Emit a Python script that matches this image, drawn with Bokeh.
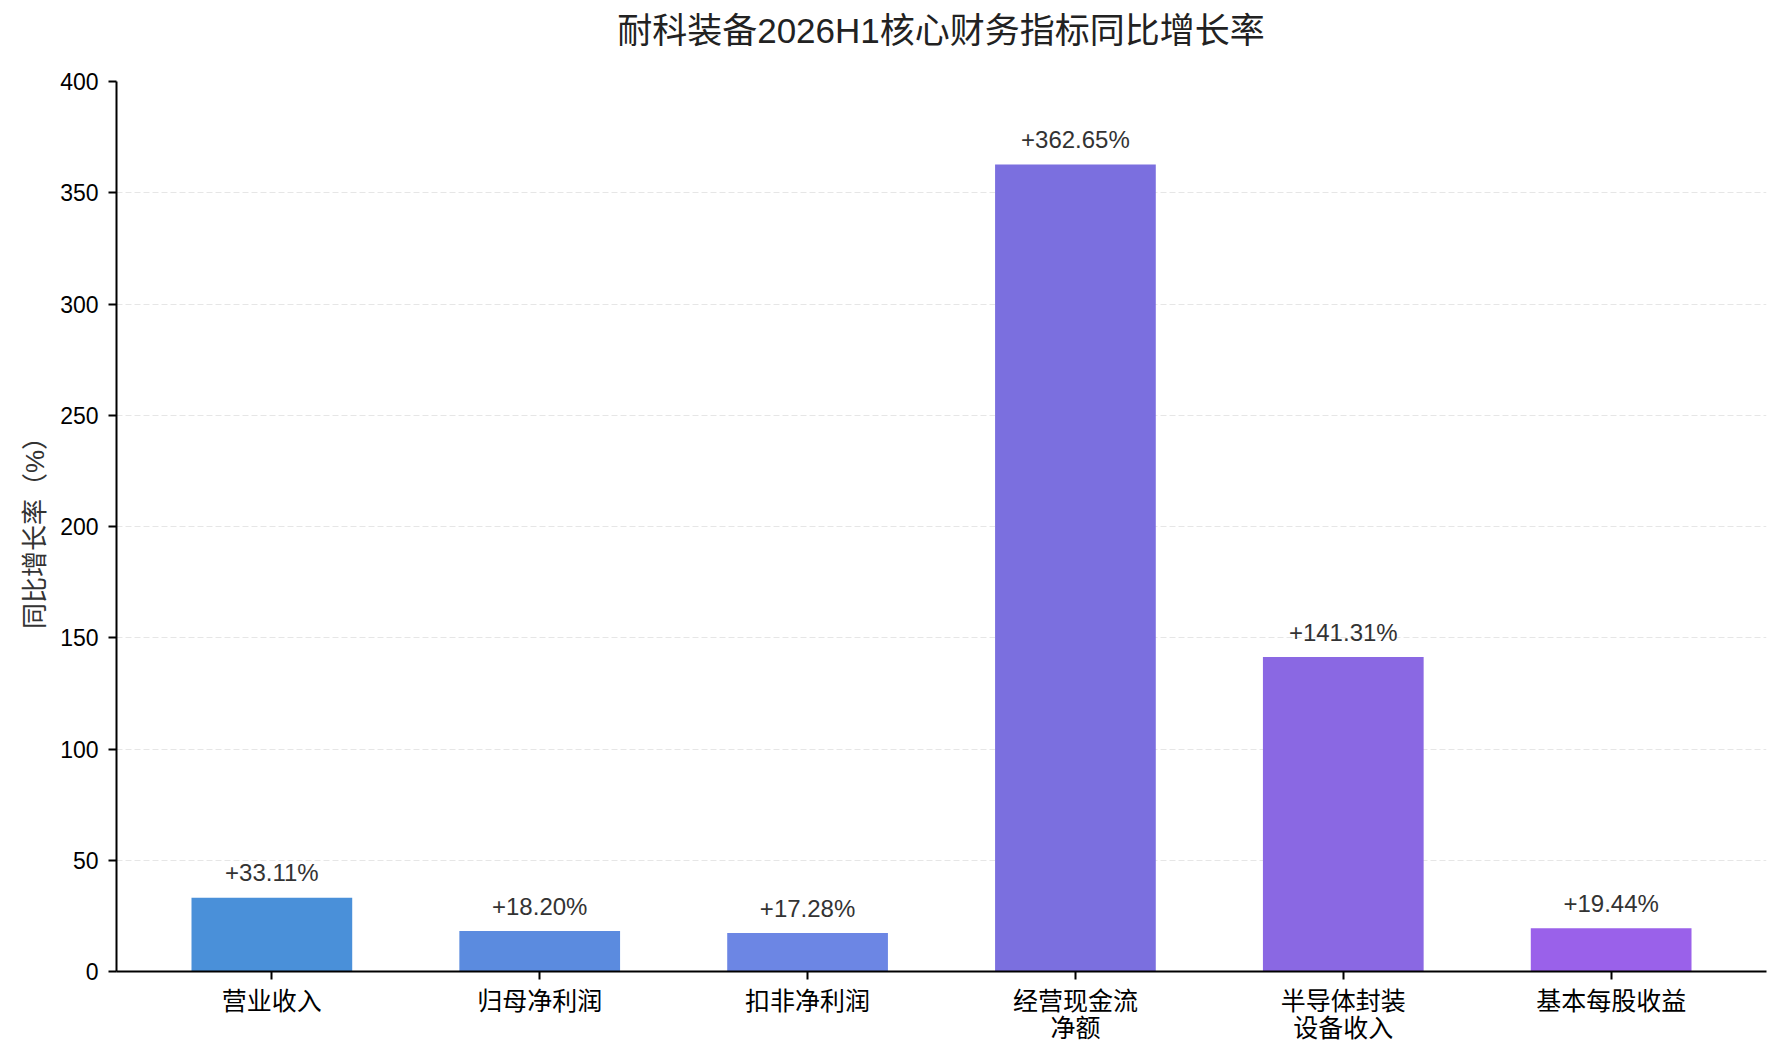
from bokeh.plotting import figure
from bokeh.models import ColumnDataSource, Range1d, FixedTicker, Div
from bokeh.layouts import column
from bokeh.embed import file_html
from bokeh.resources import INLINE
from bokeh.core.properties import value

# ---- data ----
title_text = "耐科装备2026H1核心财务指标同比增长率"
categories = ["营业收入", "归母净利润", "扣非净利润", "经营现金流\n净额", "半导体封装\n设备收入", "基本每股收益"]
growth = [33.11, 18.20, 17.28, 362.65, 141.31, 19.44]
y_ticks = [0, 50, 100, 150, 200, 250, 300, 350, 400]

colors = ["#4A90D9", "#5B8BDF", "#6C86E4", "#7B6FDF", "#8A68E3", "#9A61EA"]

LAT = "'Liberation Sans', 'Noto Sans CJK SC', sans-serif"

xs = list(range(len(categories)))
labels = ["+%.2f%%" % v for v in growth]
src = ColumnDataSource(dict(x=xs, top=growth, color=colors, label=labels))

title_div = Div(text=title_text, width=1650, height=62, margin=(0, 0, 0, 116),
                styles={"font-family": LAT, "font-size": "35px", "color": "#222222",
                        "text-align": "center", "line-height": "62px", "white-space": "nowrap"})

p = figure(width=1775, height=988, output_backend="svg", toolbar_location=None,
           x_range=Range1d(-0.58, 5.58), y_range=Range1d(0, 400),
           min_border_left=116, min_border_right=9, min_border_top=19, min_border_bottom=79)

p.vbar(x="x", top="top", width=0.6, bottom=0, fill_color="color", line_color=None, source=src)
p.text(x="x", y="top", text="label", source=src, text_align="center", text_baseline="alphabetic",
       y_offset=-25, text_font=value(LAT), text_font_size="24px", text_color="#333333")

p.outline_line_color = None
p.xgrid.grid_line_color = None
p.ygrid.grid_line_color = "#e6e6e6"
p.ygrid.grid_line_dash = "6 3"
p.ygrid.grid_line_width = 1
p.ygrid.ticker = FixedTicker(ticks=y_ticks)

p.yaxis.ticker = FixedTicker(ticks=y_ticks)
p.xaxis.ticker = FixedTicker(ticks=xs)
p.xaxis.major_label_overrides = {i: c for i, c in enumerate(categories)}

for ax in (p.xaxis, p.yaxis):
    ax.axis_line_color = "black"
    ax.axis_line_width = 2
    ax.major_tick_line_color = "black"
    ax.major_tick_line_width = 2
    ax.major_tick_out = 8
    ax.major_tick_in = 0
    ax.minor_tick_line_color = None
    ax.major_label_text_font = LAT
    ax.major_label_text_color = "#000000"

p.yaxis.major_label_text_font_size = "23px"
p.xaxis.major_label_text_font_size = "25px"
p.xaxis.major_label_text_line_height = 0.97
p.xaxis.major_label_standoff = 7
p.yaxis.major_label_standoff = 10

p.yaxis.axis_label = "同比增长率（%）"
p.yaxis.axis_label_text_font = LAT
p.yaxis.axis_label_text_font_size = "26px"
p.yaxis.axis_label_text_font_style = "normal"
p.yaxis.axis_label_text_color = "#333333"
p.yaxis.axis_label_standoff = 7

layout = column(title_div, p, spacing=0)

open("out.html", "w").write(file_html(layout, INLINE))
